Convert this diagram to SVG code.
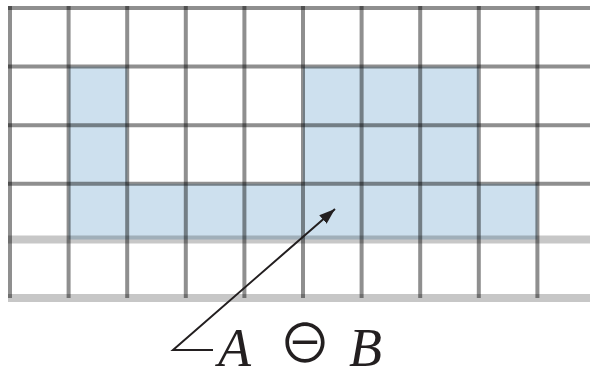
<svg xmlns="http://www.w3.org/2000/svg" width="590" height="379" viewBox="0 0 590 379">
<style>
.cell{fill:#cde0ee}
.grid{stroke:#000;stroke-opacity:0.44;stroke-width:4;fill:none}
.band{stroke:#000;stroke-opacity:0.22;stroke-width:8;fill:none}
.lbl{font-family:"Liberation Serif","DejaVu Serif",serif;font-style:italic;font-size:54px;fill:#231f20}
.sym{font-family:"Noto Sans CJK JP","DejaVu Sans",sans-serif;font-size:53px;fill:#231f20}
</style>
<defs>
<marker id="ah" viewBox="0 0 10 10" refX="10" refY="5" markerWidth="16" markerHeight="16" markerUnits="userSpaceOnUse" orient="auto">
<path d="M0,1.5 L10,5 L0,8.5 Z" fill="#231f20"/>
</marker>
</defs>
<g id="cells">
<rect class="cell" x="68.6" y="66.6" width="58.6" height="117.2"/>
<rect class="cell" x="303" y="66.6" width="175.8" height="117.2"/>
<rect class="cell" x="68.6" y="183.8" width="468.8" height="55.7"/>
</g>
<g id="grid">
<path class="grid" d="M8,8H590M8,66.6H590M8,125.2H590M8,183.8H590"/>
<path class="grid" d="M10,6V298M68.6,6V298M127.2,6V298M185.8,6V298M244.4,6V298M303,6V298M361.6,6V298M420.2,6V298M478.8,6V298M537.4,6V298"/>
<path class="band" d="M8,239.5H590M8,298H590"/>
</g>
<g id="connectors">
<polyline points="213,350 173,350 335,209" fill="none" stroke="#231f20" stroke-width="2" marker-end="url(#ah)"/>
</g>
<g id="label">
<text class="lbl" x="218" y="366">A</text>
<text class="sym" x="305" y="363" text-anchor="middle">⊖</text>
<text class="lbl" x="349" y="366">B</text>
</g>
</svg>
